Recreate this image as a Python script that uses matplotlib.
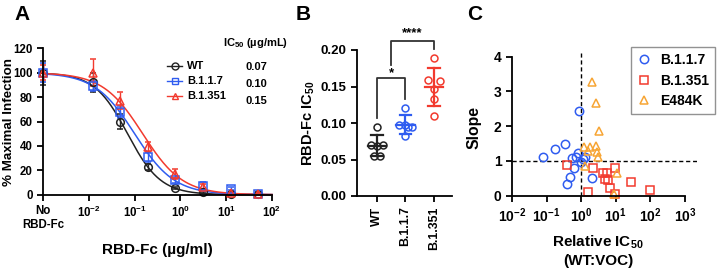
import numpy as np
import matplotlib
matplotlib.use("Agg")
import matplotlib.pyplot as plt
from matplotlib.lines import Line2D

plt.rcParams['font.family'] = ['Liberation Sans', 'DejaVu Sans']
plt.rcParams['font.weight'] = 'bold'
plt.rcParams['axes.labelweight'] = 'bold'
plt.rcParams['mathtext.fontset'] = 'custom'
plt.rcParams['mathtext.rm'] = 'Liberation Sans:bold'
plt.rcParams['mathtext.bf'] = 'Liberation Sans:bold'
plt.rcParams['mathtext.it'] = 'Liberation Sans:bold'

BLACK = '#222222'
BLUE = '#2f5cf0'
RED = '#f23a2e'
ORANGE = '#f7a534'

# ---------------- data: panel A (neutralization curves) ----------------
variants = ['WT', 'B.1.1.7', 'B.1.351']
ic50_a = [0.07, 0.10, 0.15]
hill_a = [1.2, 1.0, 1.0]
conc = [0.001, 0.0122, 0.0488, 0.195, 0.781, 3.125, 12.5, 50.0]  # first = "No RBD-Fc"
infect_wt = [100, 92, 60, 23, 5.5, 2.0, 0.5, 0.5]
err_wt = [10, 8, 6.5, 2.5, 1.0, 1.0, 0.5, 0.5]
infect_b117 = [100, 89, 68, 31, 12, 7.5, 5.0, 0.5]
err_b117 = [8, 4, 5, 4, 2, 3, 1, 0.5]
infect_b1351 = [100, 100, 77, 39, 17, 6.5, 1.5, 0.5]
err_b1351 = [6, 11, 7, 4, 4, 2, 1, 0.5]

# ---------------- data: panel B (IC50 per replicate) ----------------
ic50_wt = [0.094, 0.070, 0.069, 0.070, 0.055, 0.055]
ic50_b117 = [0.121, 0.097, 0.097, 0.095, 0.094, 0.082]
ic50_b1351 = [0.189, 0.159, 0.158, 0.147, 0.133, 0.110]
jitter_wt = [0.0, -0.2, 0.0, 0.2, -0.12, 0.12]
jitter_b117 = [0.0, -0.22, 0.0, 0.22, 0.08, 0.0]
jitter_b1351 = [0.0, -0.22, 0.22, 0.0, 0.0, 0.0]

# ---------------- data: panel C (slope vs relative IC50) ----------------
rel_b117 = [0.079, 0.18, 0.33, 0.89, 0.56, 0.83, 1.25, 1.0, 0.64, 0.47, 0.40, 2.1, 0.72, 1.1]
slope_b117 = [1.12, 1.33, 1.49, 2.45, 1.08, 1.24, 1.12, 0.96, 0.79, 0.55, 0.34, 0.50, 1.10, 1.05]
rel_b1351 = [0.40, 1.6, 2.2, 4.4, 5.5, 4.9, 6.1, 6.9, 9.5, 9.5, 27.6, 101]
slope_b1351 = [0.88, 0.12, 0.79, 0.64, 0.66, 0.48, 0.45, 0.23, 0.79, 0.05, 0.40, 0.16]
rel_e484k = [2.1, 2.65, 3.2, 1.17, 1.85, 2.65, 1.6, 2.9, 3.0, 1.3, 10.7, 9.1]
slope_e484k = [3.28, 2.66, 1.86, 1.41, 1.41, 1.43, 1.28, 1.25, 1.10, 0.86, 0.66, 0.05]

W, H = 720, 273
fig = plt.figure(figsize=(W / 100, H / 100), dpi=100)


def rect(l, t, r, b):
    return [l / W, 1 - b / H, (r - l) / W, (b - t) / H]


def style(ax):
    for s in ['top', 'right']:
        ax.spines[s].set_visible(False)
    for s in ['left', 'bottom']:
        ax.spines[s].set_linewidth(1.3)
    ax.tick_params(width=1.3, length=4, direction='out')


# ---------------- Panel A ----------------
axA = fig.add_axes(rect(43, 48.3, 272, 194.7))
style(axA)
xs = np.logspace(-3, 2, 300)
series = [(infect_wt, err_wt, BLACK, 'o'), (infect_b117, err_b117, BLUE, 's'),
          (infect_b1351, err_b1351, RED, '^')]
for i, (y, e, c, m) in enumerate(series):
    fit = 100 / (1 + (xs / ic50_a[i]) ** hill_a[i])
    axA.plot(xs, fit, color=c, lw=1.1, clip_on=False)
    axA.errorbar(conc, y, yerr=e, fmt=m, color=c, mfc='none', mec=c, ms=5.5,
                 mew=1.1, capsize=2.5, elinewidth=1.0, capthick=1.0, clip_on=False)
axA.set_xscale('log')
axA.set_xlim(1e-3, 1e2)
axA.set_ylim(0, 120)
axA.set_yticks([0, 20, 40, 60, 80, 100, 120])
axA.set_xticks([1e-3, 1e-2, 1e-1, 1e0, 1e1, 1e2])
axA.set_xticklabels(['No\nRBD-Fc', r'$\mathbf{10^{-2}}$', r'$\mathbf{10^{-1}}$',
                     r'$\mathbf{10^{0}}$', r'$\mathbf{10^{1}}$', r'$\mathbf{10^{2}}$'])
axA.xaxis.set_minor_locator(matplotlib.ticker.NullLocator())
axA.tick_params(labelsize=8.3)
axA.set_ylabel('% Maximal Infection', fontsize=9.6)
axA.yaxis.set_label_coords((15 - 43) / 229, 0.5)
fig.text(157 / W, 1 - 250 / H, 'RBD-Fc (\u00b5g/ml)', ha='center', va='center',
         fontsize=11, fontweight='bold')

handles = [Line2D([], [], color=c, marker=m, mfc='none', mec=c, ms=5, lw=1.0)
           for (_, _, c, m) in series]
axA.legend(handles, variants, loc='upper left', frameon=False, fontsize=8,
           bbox_to_anchor=(163 / W, 1 - 57 / H), bbox_transform=fig.transFigure,
           handlelength=1.3, handletextpad=0.5, labelspacing=0.45, borderaxespad=0)
fig.text(223 / W, 1 - 43 / H, 'IC$_{50}$ (\u00b5g/mL)', ha='left', va='center',
         fontsize=8)
for i, v in enumerate(ic50_a):
    fig.text(246 / W, 1 - (67 + 17 * i) / H, f'{v:.2f}', ha='left', va='center',
             fontsize=8)

# ---------------- Panel B ----------------
axB = fig.add_axes(rect(357, 50, 452, 196))
style(axB)
groups = [(ic50_wt, jitter_wt, BLACK), (ic50_b117, jitter_b117, BLUE),
          (ic50_b1351, jitter_b1351, RED)]
for i, (vals, jit, c) in enumerate(groups):
    vals = np.array(vals)
    xpos = i + np.array(jit)
    axB.plot(xpos, vals, 'o', mfc='none', mec=c, ms=5, mew=1.1, clip_on=False)
    m, sd = vals.mean(), vals.std(ddof=1)
    axB.plot([i - 0.33, i + 0.33], [m, m], color=c, lw=1.6)
    axB.plot([i, i], [m - sd, m + sd], color=c, lw=1.6)
    for yy in (m - sd, m + sd):
        axB.plot([i - 0.2, i + 0.2], [yy, yy], color=c, lw=1.6)
axB.set_xlim(-0.7, 2.63)
axB.set_ylim(0, 0.2)
axB.set_yticks([0, 0.05, 0.10, 0.15, 0.20])
axB.set_yticklabels(['0.00', '0.05', '0.10', '0.15', '0.20'])
axB.set_xticks([0, 1, 2])
axB.set_xticklabels(variants, rotation=90)
axB.tick_params(axis='y', labelsize=9.5)
axB.tick_params(axis='x', labelsize=8.8)
axB.set_ylabel(r'RBD-Fc IC$_{50}$', fontsize=10.5)
axB.yaxis.set_label_coords((317 - 357) / 95, 0.5)
# significance brackets
axB.plot([0, 0, 1, 1], [0.107, 0.162, 0.162, 0.133], color='#333333', lw=1.3,
         clip_on=False)
axB.text(0.5, 0.168, '*', ha='center', va='center', fontsize=9.5)
axB.plot([0.5, 0.5, 2, 2], [0.179, 0.2127, 0.2127, 0.201], color='#333333', lw=1.3,
         clip_on=False)
axB.text(1.25, 0.223, '****', ha='center', va='center', fontsize=9.5)

# ---------------- Panel C ----------------
axC = fig.add_axes(rect(512, 53.2, 697, 195.7))
style(axC)
axC.set_xscale('log')
axC.set_xlim(1e-2, 10 ** 3.35)
axC.set_ylim(0, 4.1)
axC.spines['bottom'].set_bounds(1e-2, 1e3)
axC.spines['left'].set_bounds(0, 4)
axC.axvline(1, color='black', ls=(0, (3, 2)), lw=1.0)
axC.axhline(1, color='black', ls=(0, (3, 2)), lw=1.0)
axC.plot(rel_b117, slope_b117, 'o', mfc='none', mec=BLUE, ms=6, mew=1.1,
         label='B.1.1.7', clip_on=False)
axC.plot(rel_b1351, slope_b1351, 's', mfc='none', mec=RED, ms=6, mew=1.1,
         label='B.1.351', clip_on=False)
axC.plot(rel_e484k, slope_e484k, '^', mfc='none', mec=ORANGE, ms=6, mew=1.1,
         label='E484K', clip_on=False)
axC.set_xticks([1e-2, 1e-1, 1e0, 1e1, 1e2, 1e3])
axC.set_xticklabels([r'$\mathbf{10^{-2}}$', r'$\mathbf{10^{-1}}$', r'$\mathbf{10^{0}}$',
                     r'$\mathbf{10^{1}}$', r'$\mathbf{10^{2}}$', r'$\mathbf{10^{3}}$'])
axC.xaxis.set_minor_locator(matplotlib.ticker.NullLocator())
axC.set_yticks([0, 1, 2, 3, 4])
axC.tick_params(labelsize=10)
axC.set_ylabel('Slope', fontsize=11.3)
axC.yaxis.set_label_coords((481 - 512) / 185, 0.48)
fig.text(598 / W, 1 - 251 / H, 'Relative IC$_{50}$\n(WT:VOC)', ha='center',
         va='center', fontsize=11, fontweight='bold', linespacing=1.3)
leg = axC.legend(loc='upper right', bbox_to_anchor=(715 / W, 1 - 47 / H),
                 bbox_transform=fig.transFigure, fontsize=10, frameon=True,
                 fancybox=False, edgecolor='#777777', handlelength=1.0,
                 handletextpad=0.6, borderaxespad=0, labelspacing=0.45,
                 borderpad=0.45)
leg.get_frame().set_linewidth(1.0)

# panel letters
for lbl, x in [('A', 22), ('B', 303), ('C', 475)]:
    fig.text(x / W, 1 - 14 / H, lbl, ha='center', va='center', fontsize=15,
             fontweight='bold')

fig.savefig('out.png', dpi=100)
